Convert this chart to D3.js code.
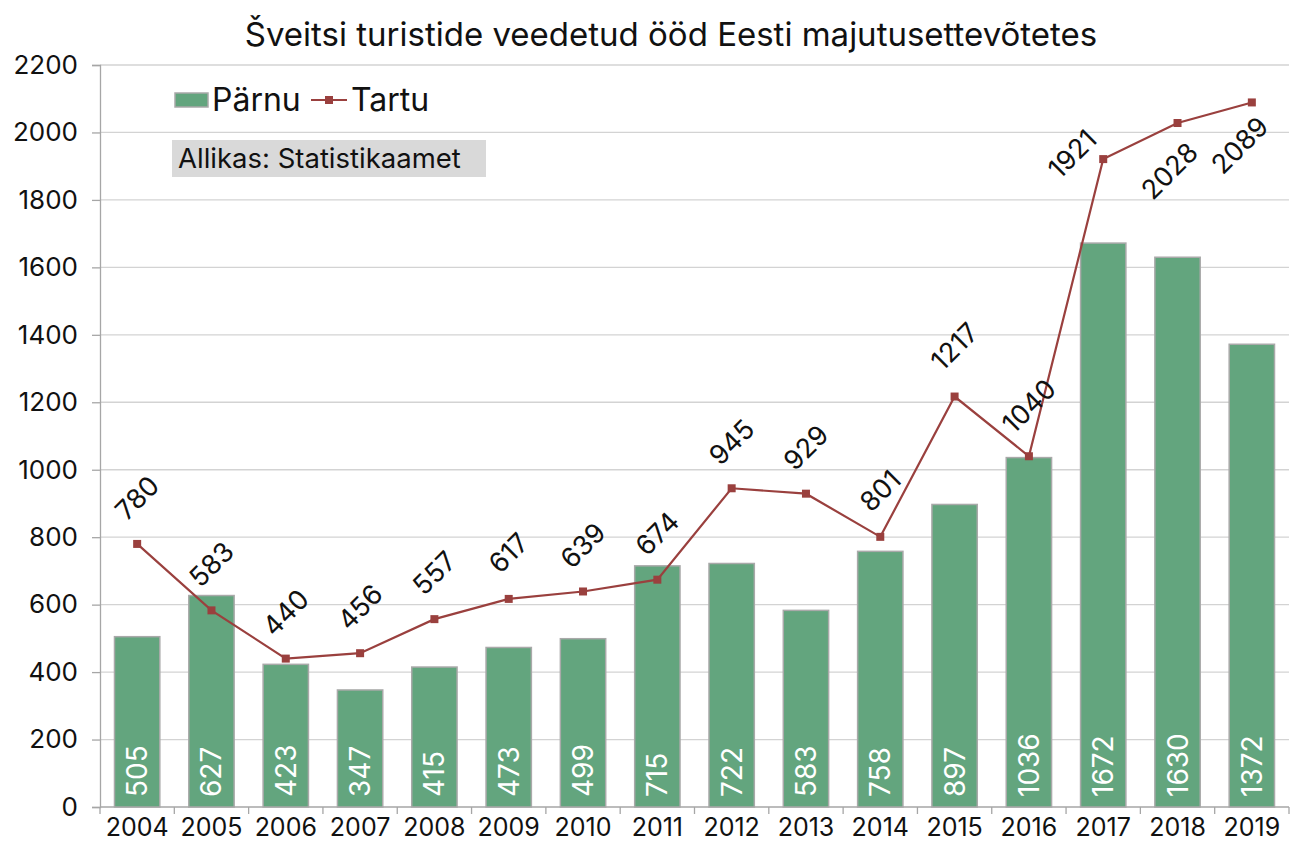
<!DOCTYPE html>
<html>
<head>
<meta charset="utf-8">
<script src="https://cdn.jsdelivr.net/npm/d3@7"></script>
<style>
  body { margin: 0; background: #fff; }
  text { font-family: Inter, "Open Sans", sans-serif; fill: #111; }
</style>
</head>
<body>
<div id="chart"></div>
<script>
const years = ['2004','2005','2006','2007','2008','2009','2010','2011','2012','2013','2014','2015','2016','2017','2018','2019'];
const parnu = [505, 627, 423, 347, 415, 473, 499, 715, 722, 583, 758, 897, 1036, 1672, 1630, 1372];
const tartu = [780, 583, 440, 456, 557, 617, 639, 674, 945, 929, 801, 1217, 1040, 1921, 2028, 2089];
const yTicks = [0, 200, 400, 600, 800, 1000, 1200, 1400, 1600, 1800, 2000, 2200];

// hand-moved Tartu labels (offset of label centre from the point)
const labelMoves = { '2017': [-31, -5], '2018': [-8, 48], '2019': [-12, 43] };

const width = 1290;
const height = 843;
const margin = { top: 65, right: 1, bottom: 36, left: 100 };

const svg = d3.select('#chart')
  .append('svg')
  .attr('width', width)
  .attr('height', height);

const x = d3.scaleBand()
  .domain(years)
  .range([margin.left, width - margin.right])
  .paddingInner(0.39)
  .paddingOuter(0.195);

const y = d3.scaleLinear()
  .domain([0, 2200])
  .range([height - margin.bottom, margin.top]);

// grid
svg.append('g')
  .selectAll('line')
  .data(yTicks.slice(1))
  .enter()
  .append('line')
  .attr('x1', margin.left)
  .attr('x2', width - margin.right)
  .attr('y1', d => y(d))
  .attr('y2', d => y(d))
  .attr('stroke', '#d3d3d3')
  .attr('stroke-width', 1.3);

// y axis
const yAxis = svg.append('g')
  .attr('transform', `translate(${margin.left},0)`)
  .call(d3.axisLeft(y).tickValues(yTicks).tickFormat(d3.format('d')).tickSize(8).tickPadding(14));
yAxis.select('.domain').attr('stroke', '#a6a6a6').attr('stroke-width', 1.3);
yAxis.selectAll('.tick line').attr('stroke', '#a6a6a6').attr('stroke-width', 1.3);
yAxis.selectAll('.tick text')
  .style('font-size', '26px')
  .style('font-family', 'Inter, sans-serif')
  .attr('fill', '#111');

// x axis: ticks on the band edges
const xg = svg.append('g');
xg.append('line')
  .attr('x1', margin.left)
  .attr('x2', width - margin.right)
  .attr('y1', y(0))
  .attr('y2', y(0))
  .attr('stroke', '#a6a6a6')
  .attr('stroke-width', 1.3);
const step = x.step();
xg.selectAll('line.tk')
  .data(d3.range(years.length + 1))
  .enter()
  .append('line')
  .attr('class', 'tk')
  .attr('x1', i => margin.left + i * step)
  .attr('x2', i => margin.left + i * step)
  .attr('y1', y(0))
  .attr('y2', y(0) + 7)
  .attr('stroke', '#a6a6a6')
  .attr('stroke-width', 1.3);
xg.selectAll('text')
  .data(years)
  .enter()
  .append('text')
  .attr('x', d => x(d) + x.bandwidth() / 2)
  .attr('y', y(0) + 29)
  .attr('text-anchor', 'middle')
  .style('font-size', '25px')
  .text(d => d);

// bars
const data = years.map((yr, i) => ({ year: yr, parnu: parnu[i], tartu: tartu[i] }));

svg.append('g')
  .selectAll('rect')
  .data(data)
  .enter()
  .append('rect')
  .attr('x', d => x(d.year))
  .attr('y', d => y(d.parnu))
  .attr('width', x.bandwidth())
  .attr('height', d => y(0) - y(d.parnu))
  .attr('fill', '#63a57e')
  .attr('stroke', '#a9a9a9')
  .attr('stroke-width', 1.5);

svg.append('g')
  .selectAll('text')
  .data(data)
  .enter()
  .append('text')
  .attr('transform', d => `translate(${x(d.year) + x.bandwidth() / 2 + 10},${y(0) - 10}) rotate(-90)`)
  .attr('text-anchor', 'start')
  .style('font-size', '28px')
  .style('fill', '#fff')
  .text(d => d.parnu);

// Tartu line
const cx = d => x(d.year) + x.bandwidth() / 2;
const line = d3.line()
  .x(cx)
  .y(d => y(d.tartu));

svg.append('path')
  .datum(data)
  .attr('d', line)
  .attr('fill', 'none')
  .attr('stroke', '#9a403e')
  .attr('stroke-width', 2.2);

svg.append('g')
  .selectAll('rect')
  .data(data)
  .enter()
  .append('rect')
  .attr('x', d => cx(d) - 4)
  .attr('y', d => y(d.tartu) - 4)
  .attr('width', 8)
  .attr('height', 8)
  .attr('fill', '#9a403e');

svg.append('g')
  .selectAll('text')
  .data(data)
  .enter()
  .append('text')
  .attr('transform', d => {
    const mv = labelMoves[d.year];
    const up = String(d.tartu).length > 3 ? 50 : 46;
    const lx = cx(d) + (mv ? mv[0] : 0);
    const ly = y(d.tartu) + (mv ? mv[1] : -up);
    return `translate(${lx},${ly}) rotate(-45)`;
  })
  .attr('text-anchor', 'middle')
  .attr('dy', '0.35em')
  .style('font-size', '27px')
  .text(d => d.tartu);

// title
svg.append('text')
  .attr('x', 671)
  .attr('y', 46)
  .attr('text-anchor', 'middle')
  .style('font-size', '33px')
  .text('Šveitsi turistide veedetud ööd Eesti majutusettevõtetes');

// legend
const lg = svg.append('g');
lg.append('rect')
  .attr('x', 175).attr('y', 93)
  .attr('width', 33).attr('height', 14)
  .attr('fill', '#63a57e')
  .attr('stroke', '#a9a9a9')
  .attr('stroke-width', 1.5);
lg.append('text')
  .attr('x', 212).attr('y', 111)
  .style('font-size', '32px')
  .text('Pärnu');
lg.append('line')
  .attr('x1', 311).attr('x2', 347)
  .attr('y1', 100).attr('y2', 100)
  .attr('stroke', '#9a403e')
  .attr('stroke-width', 2.2);
lg.append('rect')
  .attr('x', 325).attr('y', 96)
  .attr('width', 8).attr('height', 8)
  .attr('fill', '#9a403e');
lg.append('text')
  .attr('x', 351).attr('y', 111)
  .style('font-size', '32px')
  .text('Tartu');

// source note
svg.append('rect')
  .attr('x', 172).attr('y', 140)
  .attr('width', 314).attr('height', 37)
  .attr('fill', '#d9d9d9');
svg.append('text')
  .attr('x', 178).attr('y', 168)
  .style('font-size', '27.5px')
  .text('Allikas: Statistikaamet');
</script>
</body>
</html>
